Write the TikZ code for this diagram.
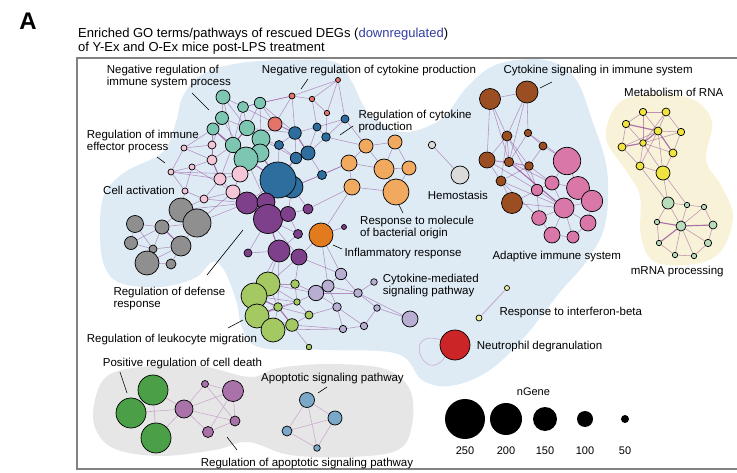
\documentclass[tikz,border=0pt]{standalone}
\usepackage{fontspec}
\setmainfont{Liberation Sans}
\pgfdeclarelayer{blobs}
\pgfdeclarelayer{edges}
\pgfsetlayers{blobs,edges,main}
\definecolor{cTeal}{RGB}{125,198,178}
\definecolor{cPinkL}{RGB}{244,198,215}
\definecolor{cBlue}{RGB}{46,110,158}
\definecolor{cSalmon}{RGB}{228,115,106}
\definecolor{cOrL}{RGB}{240,169,94}
\definecolor{cOrD}{RGB}{226,122,30}
\definecolor{cPurp}{RGB}{126,63,139}
\definecolor{cGray}{RGB}{143,143,143}
\definecolor{cHemo}{RGB}{218,218,218}
\definecolor{cLime}{RGB}{164,200,98}
\definecolor{cLav}{RGB}{183,174,210}
\definecolor{cIfn}{RGB}{242,240,160}
\definecolor{cRed}{RGB}{204,37,39}
\definecolor{cBrown}{RGB}{155,78,34}
\definecolor{cPink}{RGB}{217,119,168}
\definecolor{cYel}{RGB}{238,227,63}
\definecolor{cMrna}{RGB}{184,220,188}
\definecolor{cDGreen}{RGB}{75,159,71}
\definecolor{cMauve}{RGB}{169,115,169}
\definecolor{cSteel}{RGB}{122,168,200}
\definecolor{blobBlue}{RGB}{222,235,245}
\definecolor{blobYel}{RGB}{247,242,216}
\definecolor{blobGray}{RGB}{230,230,230}
\definecolor{titleBlue}{RGB}{50,60,160}
\definecolor{edgeCol}{RGB}{145,65,150}
\definecolor{edgeLight}{RGB}{200,160,205}
\definecolor{frameGray}{RGB}{130,130,130}
\tikzset{
  gn/.style={circle,draw=black,line width=0.7pt,inner sep=0pt},
  lgn/.style={circle,fill=black,inner sep=0pt},
  edg/.style={draw=edgeCol,line width=0.55pt,opacity=0.55},
  edgl/.style={draw=edgeLight,line width=0.6pt,opacity=0.85},
  lbl/.style={font=\fontsize{11.5}{12}\selectfont,align=left,inner sep=0pt,anchor=north west},
  lead/.style={draw=black,line width=0.6pt},
  legtxt/.style={font=\fontsize{11}{12}\selectfont,inner sep=0pt,anchor=north}
}
\newcommand\GN[5]{\node[gn,fill=#4,minimum size={2*#5pt}] (#1) at (#2,#3) {};}
\begin{document}
\begin{tikzpicture}[x=1pt,y=-1pt]
\useasboundingbox (0,0) rectangle (737,473);

% title
\node[font=\fontsize{24}{25}\selectfont\bfseries,inner sep=0pt] (lblA) at (28,21) {A};
\node[font=\fontsize{13}{13.3}\selectfont,align=left,inner sep=0pt,anchor=north west] (title) at (78,28.3)
 {Enriched GO terms/pathways of rescued DEGs (\textcolor{titleBlue}{downregulated})\\of Y-Ex and O-Ex mice post-LPS treatment};

% frame
\draw[frameGray,line width=1.1pt] (740,58) -- (77,58) -- (77,469) -- (740,469);

% nodes: teal
\GN{t1}{223}{97}{cTeal}{7}
\GN{t2}{243}{107}{cTeal}{5.5}
\GN{t3}{260}{103}{cTeal}{5.7}
\GN{t4}{222}{118}{cTeal}{6.5}
\GN{t5}{213}{129}{cTeal}{6}
\GN{t6}{247}{128}{cTeal}{7.7}
\GN{t7}{261}{139}{cTeal}{9}
\GN{t8}{233}{145}{cTeal}{7.7}
\GN{t10}{260}{153}{cTeal}{9}
\GN{t9}{246}{159}{cTeal}{12}
% light pink
\GN{p1}{184}{148}{cPinkL}{3}
\GN{p2}{212}{145}{cPinkL}{4}
\GN{p3}{192}{167}{cPinkL}{3}
\GN{p4}{212}{160}{cPinkL}{5}
\GN{p5}{171}{172}{cPinkL}{3}
\GN{p6}{220}{179}{cPinkL}{6}
\GN{p7}{240}{174}{cPinkL}{8}
\GN{p8}{233}{192}{cPinkL}{7}
\GN{p9}{185}{191}{cPinkL}{3}
\GN{p10}{204}{199}{cPinkL}{4}
% salmon
\GN{s1}{275}{124}{cSalmon}{7}
\GN{s2}{292}{96}{cSalmon}{3}
\GN{s3}{312}{99}{cSalmon}{2.7}
\GN{s4}{327}{113}{cSalmon}{2.7}
\GN{s5}{338}{80}{cSalmon}{2.5}
% blue
\GN{b1}{295}{133}{cBlue}{6.3}
\GN{b2}{279}{145}{cBlue}{4.5}
\GN{b3}{317}{127}{cBlue}{4}
\GN{b4}{326}{137}{cBlue}{4.3}
\GN{b5}{345}{119}{cBlue}{4}
\GN{b6}{308}{153}{cBlue}{7}
\GN{b7}{296}{158}{cBlue}{5.7}
\GN{b10}{322}{175}{cBlue}{4.5}
\GN{b9}{292}{187}{cBlue}{11}
\GN{b8}{278}{180}{cBlue}{18}
% light orange
\GN{o1}{366}{146}{cOrL}{7}
\GN{o2}{395}{142}{cOrL}{7}
\GN{o3}{349}{163}{cOrL}{8}
\GN{o4}{384}{169}{cOrL}{10}
\GN{o5}{409}{168}{cOrL}{7}
\GN{o6}{352}{187}{cOrL}{8}
\GN{o7}{396}{192}{cOrL}{13}
\GN{io}{321}{235}{cOrD}{12}
% hemostasis
\GN{h1}{432}{145}{cHemo}{3.7}
\GN{h2}{460}{175}{cHemo}{9}
% purple
\GN{u1}{247}{203}{cPurp}{11}
\GN{u2}{266}{202}{cPurp}{9}
\GN{u3}{268}{219}{cPurp}{14.5}
\GN{u4}{288}{214}{cPurp}{7.5}
\GN{u5}{308}{209}{cPurp}{5}
\GN{u6}{344}{227}{cPurp}{2.5}
\GN{u7}{248}{253}{cPurp}{4}
\GN{u8}{279}{251}{cPurp}{11}
\GN{u9}{299}{257}{cPurp}{8}
\GN{u10}{298}{234}{cPurp}{4.5}
% gray
\GN{g1}{181}{210}{cGray}{12}
\GN{g2}{197}{223}{cGray}{14}
\GN{g3}{135}{224}{cGray}{8.5}
\GN{g4}{162}{227}{cGray}{7}
\GN{g5}{131}{243}{cGray}{6.5}
\GN{g6}{181}{246}{cGray}{10}
\GN{g7}{153}{249}{cGray}{4}
\GN{g8}{147}{263}{cGray}{12}
\GN{g9}{171}{264}{cGray}{5}
% lime
\GN{l1}{268}{284}{cLime}{12}
\GN{l2}{254}{296}{cLime}{13}
\GN{l3}{257}{316}{cLime}{12}
\GN{l4}{273}{330}{cLime}{12}
\GN{l5}{295}{284}{cLime}{4.3}
\GN{l6}{297}{302}{cLime}{3.2}
\GN{l7}{278}{307}{cLime}{4.3}
\GN{l8}{309}{315}{cLime}{4}
\GN{l9}{292}{325}{cLime}{6.3}
\GN{l10}{309}{347}{cLime}{2.8}
% lavender
\GN{v1}{341}{274}{cLav}{5.7}
\GN{v2}{328}{286}{cLav}{6}
\GN{v3}{316}{293}{cLav}{7.7}
\GN{v4}{358}{293}{cLav}{4.3}
\GN{v5}{374}{282}{cLav}{3.3}
\GN{v6}{337}{307}{cLav}{4.3}
\GN{v7}{377}{308}{cLav}{3.3}
\GN{v8}{343}{329}{cLav}{3.7}
\GN{v9}{364}{326}{cLav}{3.7}
\GN{v10}{410}{319}{cLav}{8}
% interferon, neutrophil
\GN{y1}{507}{288}{cIfn}{2.5}
\GN{y2}{479}{318}{cIfn}{3}
\GN{nd}{455}{345}{cRed}{15}
% brown
\GN{br1}{490}{99}{cBrown}{10.5}
\GN{br2}{527}{92}{cBrown}{11}
\GN{br3}{507}{136}{cBrown}{5}
\GN{br4}{528}{133}{cBrown}{3.7}
\GN{br5}{543}{146}{cBrown}{4}
\GN{br6}{487}{160}{cBrown}{8}
\GN{br7}{509}{162}{cBrown}{4.7}
\GN{br8}{529}{166}{cBrown}{4.3}
\GN{br9}{501}{181}{cBrown}{5}
\GN{br10}{512}{203}{cBrown}{10.5}
% pink adaptive
\GN{k1}{567}{161}{cPink}{13.7}
\GN{k2}{552}{183}{cPink}{7}
\GN{k3}{537}{190}{cPink}{5.7}
\GN{k4}{578}{188}{cPink}{11.5}
\GN{k5}{592}{201}{cPink}{10.7}
\GN{k6}{564}{208}{cPink}{10}
\GN{k7}{539}{218}{cPink}{7.3}
\GN{k8}{588}{223}{cPink}{8}
\GN{k9}{552}{235}{cPink}{8}
\GN{k10}{573}{237}{cPink}{6}
% yellow
\GN{m1}{643}{112}{cYel}{3.7}
\GN{m2}{666}{112}{cYel}{4}
\GN{m3}{626}{124}{cYel}{3.7}
\GN{m4}{658}{131}{cYel}{4}
\GN{m5}{681}{132}{cYel}{3.7}
\GN{m6}{643}{143}{cYel}{3.3}
\GN{m7}{622}{147}{cYel}{4}
\GN{m8}{673}{153}{cYel}{4}
\GN{m9}{640}{166}{cYel}{4}
\GN{m10}{663}{173}{cYel}{7}
% mRNA
\GN{q1}{668}{203}{cMrna}{6}
\GN{q2}{687}{205}{cMrna}{2.7}
\GN{q3}{704}{207}{cMrna}{2.7}
\GN{q4}{657}{222}{cMrna}{2.7}
\GN{q5}{681}{226}{cMrna}{5}
\GN{q6}{713}{225}{cMrna}{4}
\GN{q7}{708}{243}{cMrna}{3.7}
\GN{q8}{659}{243}{cMrna}{2.7}
\GN{q9}{675}{255}{cMrna}{2.7}
\GN{q10}{694}{256}{cMrna}{2.7}
% bottom clusters
\GN{dg1}{153}{390}{cDGreen}{15}
\GN{dg2}{131}{413}{cDGreen}{15}
\GN{dg3}{156}{438}{cDGreen}{15}
\GN{a1}{184}{409}{cMauve}{9}
\GN{a2}{205}{384}{cMauve}{3.5}
\GN{a3}{233}{391}{cMauve}{10.5}
\GN{a4}{235}{421}{cMauve}{5}
\GN{a5}{208}{432}{cMauve}{5.5}
\GN{c1}{307}{400}{cSteel}{7.5}
\GN{c2}{335}{418}{cSteel}{7}
\GN{c3}{287}{431}{cSteel}{5}
\GN{c4}{317}{448}{cSteel}{3.3}

% legend
\node[legtxt,anchor=north west] (ngene) at (516.7,387.3) {nGene};
\node[lgn,minimum size=40pt] (L1) at (465,419) {};
\node[lgn,minimum size=32pt] (L2) at (506,419) {};
\node[lgn,minimum size=24pt] (L3) at (545,419) {};
\node[lgn,minimum size=16pt] (L4) at (585,419) {};
\node[lgn,minimum size=8pt] (L5) at (625,419) {};
\node[legtxt] (n250) at (465,446.7) {250};
\node[legtxt] (n200) at (506,446.7) {200};
\node[legtxt] (n150) at (545,446.7) {150};
\node[legtxt] (n100) at (585,446.7) {100};
\node[legtxt] (n50) at (625,446.7) {50};

% labels
\node[lbl] (lb1) at (106.7,65) {Negative regulation of\\immune system process};
\node[lbl] (lb2) at (261.7,65) {Negative regulation of cytokine production};
\node[lbl] (lb3) at (358.3,110) {Regulation of cytokine\\production};
\node[lbl] (lb4) at (503.3,65) {Cytokine signaling in immune system};
\node[lbl] (lb5) at (624,88.3) {Metabolism of RNA};
\node[lbl] (lb6) at (630.7,265.7) {mRNA processing};
\node[lbl] (lb7) at (86.7,130) {Regulation of immune\\effector process};
\node[lbl] (lb8) at (103,186) {Cell activation};
\node[lbl] (lb9) at (427.7,190.7) {Hemostasis};
\node[lbl] (lb10) at (360,215.7) {Response to molecule\\of bacterial origin};
\node[lbl] (lb11) at (344.3,247.7) {Inflammatory response};
\node[lbl] (lb12) at (492.3,251) {Adaptive immune system};
\node[lbl] (lb13) at (382.7,274.3) {Cytokine-mediated\\signaling pathway};
\node[lbl] (lb14) at (113.3,286.7) {Regulation of defense\\response};
\node[lbl] (lb15) at (86.7,334.3) {Regulation of leukocyte migration};
\node[lbl] (lb16) at (499.3,306.7) {Response to interferon-beta};
\node[lbl] (lb17) at (476.7,341) {Neutrophil degranulation};
\node[lbl] (lb18) at (102.7,358.3) {Positive regulation of cell death};
\node[lbl] (lb19) at (261,373.3) {Apoptotic signaling pathway};
\node[lbl] (lb20) at (200.7,458.3) {Regulation of apoptotic signaling pathway};

% leader lines
\coordinate (ld1a) at (192,93); \coordinate (ld1b) at (209,110);
\coordinate (ld2a) at (308,79); \coordinate (ld2b) at (301,89);
\coordinate (ld3a) at (353,126); \coordinate (ld3b) at (340,135);
\coordinate (ld4a) at (552,82); \coordinate (ld4b) at (540,88);
\coordinate (ld5a) at (157,157); \coordinate (ld5b) at (165,163);
\coordinate (ld6a) at (399,205); \coordinate (ld6b) at (403,213);
\coordinate (ld7a) at (333,245); \coordinate (ld7b) at (342,249);
\coordinate (ld8a) at (243,230); \coordinate (ld8b) at (207,275);
\coordinate (ld9a) at (243,320); \coordinate (ld9b) at (228,328);
\coordinate (ld10a) at (120,372); \coordinate (ld10b) at (127,393);
\coordinate (ld11a) at (327,387); \coordinate (ld11b) at (318,393);
\coordinate (ld12a) at (227,437); \coordinate (ld12b) at (237,450);
\foreach \i in {1,...,12} \draw[lead] (ld\i a) -- (ld\i b);

% edges
\begin{pgfonlayer}{edges}
\foreach \a/\b in {t1/t2,t1/t4,t2/t3,t2/t6,t3/t6,t4/t5,t4/t6,t5/t8,t6/t7,t6/t8,t7/t9,t8/t9,t9/t10,t7/t10,t5/t9,t1/t6,t3/t7,t2/t8,t1/t8,t4/t9,
 p1/p2,p1/p4,p2/p4,p3/p4,p3/p5,p5/p6,p4/p6,p6/p7,p7/p8,p8/p10,p9/p10,p5/p9,p3/p9,p6/p8,p1/p5,p6/p10,p5/p7,p3/p8,
 p4/t5,p2/t5,p7/t9,p6/t8,p2/t4,p1/t5,p4/t8,
 b1/b2,b1/b3,b3/b4,b4/b5,b1/b6,b6/b7,b7/b8,b8/b9,b6/b10,b9/b10,b2/b8,b3/b6,b4/b6,b2/b7,b3/b5,b1/b7,
 t10/b8,t7/b2,t6/b1,t3/b1,t9/b8,t2/b1,t7/b7,
 s2/s3,s3/s4,s4/s5,s2/s5,s1/b1,s2/b1,s3/b3,s4/b4,s5/b5,s1/t3,s2/t3,s3/s5,s1/s2,s2/t2,
 b5/o1,b10/o3,b9/o3,o1/o2,o1/o3,o2/o4,o3/o4,o4/o5,o4/o7,o6/o7,o3/o6,o2/o5,o1/o4,o5/o7,b4/o1,
 o6/u5,o6/io,io/u6,u1/u2,u1/u3,u2/u3,u3/u4,u4/u5,u3/u10,u10/u8,u8/u9,u7/u8,u3/u8,u4/u10,u2/b8,u4/b9,u5/b9,u1/b8,u1/p8,u1/p10,u3/u9,u3/u7,u2/t9,
 u1/g1,u1/g2,g1/g2,g1/g4,g2/g4,g3/g4,g4/g5,g4/g6,g5/g7,g6/g7,g6/g8,g7/g8,g8/g9,g6/g9,g3/g5,g2/g6,g1/p10,g2/p8,g1/p9,g3/g7,g4/g7,
 u8/l1,u8/l2,u9/l5,u8/l7,l1/l2,l2/l3,l3/l4,l1/l5,l5/l6,l6/l7,l7/l8,l7/l9,l8/l9,l3/l7,l4/l9,l2/l6,l6/l8,l9/l10,l1/l6,l3/l6,l2/l7,l4/l7,l3/l9,l1/l7,u9/l1,
 l1/v3,l6/v3,l8/v6,l5/v3,l9/v8,v1/v2,v2/v3,v3/v6,v2/v4,v4/v5,v4/v7,v6/v8,v8/v9,v7/v9,v4/v10,v1/v4,v3/v4,v2/v6,v7/v10,io/v1,io/v2,io/u9,v1/u9,v6/v9,l4/v8,
 h1/h2,y1/y2,
 br1/br2,br1/br3,br2/br4,br3/br6,br3/br7,br4/br7,br4/br5,br6/br7,br6/br9,br7/br8,br8/br9,br9/br10,br5/br8,br1/br7,br2/br3,br3/br8,br2/br7,br1/br6,br6/br8,br3/br9,
 br5/k1,br8/k2,br8/k3,br10/k3,br7/k6,br9/k7,br4/k1,br10/k6,br7/k2,br3/k3,br6/k3,br9/k6,
 k1/k2,k1/k4,k2/k3,k2/k4,k4/k5,k4/k6,k3/k6,k6/k7,k6/k8,k6/k9,k7/k9,k9/k10,k8/k10,k5/k8,k6/k10,k2/k6,k3/k7,k5/k6,
 m1/m4,m2/m4,m3/m6,m4/m6,m5/m4,m7/m6,m8/m4,m9/m6,m10/m4,m1/m6,m2/m6,m3/m4,m5/m6,m7/m4,m8/m6,m9/m4,m10/m6,m1/m3,m1/m2,m2/m5,m5/m8,m8/m10,m7/m9,m9/m10,m3/m7,m10/q1,m10/q2,m9/q1,
 q1/q5,q2/q5,q3/q5,q4/q5,q6/q5,q7/q5,q8/q5,q9/q5,q10/q5,q1/q2,q2/q3,q3/q6,q6/q7,q7/q10,q10/q9,q9/q8,q8/q4,q4/q1}
  \draw[edg] (\a) -- (\b);
\foreach \a/\b in {t7/t9,t8/t9,t6/t8,t9/b8,t10/b8,b7/b8,b6/b7,b1/b6,u3/u8,l2/l7,l7/l9,l3/l7,m4/m6,m6/m7,m4/m8,m4/m3,q5/q4,q5/q6,q5/q8,br7/k6,u1/p8,t5/t9,p4/p6,g4/g6}
  \draw[edg,line width=1.2pt,opacity=0.55] (\a) -- (\b);
\draw[edgl] (nd.160) .. controls +(-40,-12) and +(-20,30) .. (nd.230);
\foreach \a/\b in {dg1/dg3,dg2/a1,dg1/a1,dg3/a1,a1/a2,a1/a3,a1/a5,a2/a4,a3/a4,a3/a5,a2/a3,a5/a4,a1/a4,c1/c2,c1/c3,c1/c4,c2/c3,c2/c4,c3/c4}
  \draw[edgl] (\a) -- (\b);
\end{pgfonlayer}

% blobs
\begin{pgfonlayer}{blobs}
\fill[blobBlue] plot[smooth cycle,tension=0.6] coordinates {
 (183,96) (203,74) (240,63) (290,60) (335,62) (352,82) (368,112) (400,132) (440,120) (468,86) (498,64) (545,60)
 (575,78) (592,120) (607,170) (605,225) (586,262) (560,292) (522,340) (487,372) (450,386) (422,380) (398,354)
 (330,350) (262,348) (243,330) (236,300) (224,270) (212,262) (195,278) (160,287) (120,283) (104,265)
 (100,232) (104,195) (125,172) (163,152) (176,122)};
\fill[blobYel] plot[smooth cycle,tension=0.6] coordinates {
 (606,138) (618,104) (650,94) (692,99) (712,122) (706,160) (722,187) (733,217) (721,251) (695,264)
 (655,262) (641,236) (640,196) (627,172)};
\fill[blobGray] plot[smooth cycle,tension=0.6] coordinates {
 (94,405) (106,377) (140,367) (200,366) (250,377) (278,368) (330,364) (385,369) (410,390) (412,425)
 (398,450) (350,457) (290,455) (248,442) (215,450) (160,456) (115,449) (96,430)};
\end{pgfonlayer}
\end{tikzpicture}
\end{document}
